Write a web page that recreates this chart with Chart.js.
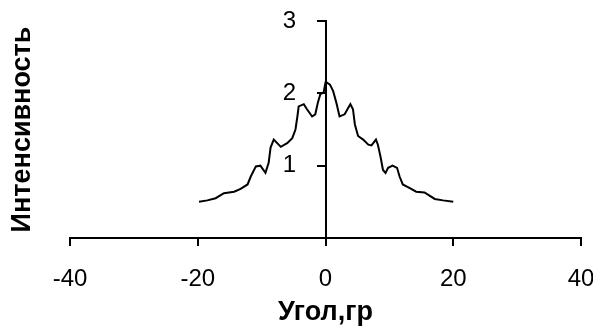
<!DOCTYPE html>
<html>
<head>
<meta charset="utf-8">
<script src="https://cdn.jsdelivr.net/npm/chart.js@4/dist/chart.umd.min.js"></script>
<style>
  html, body { margin: 0; padding: 0; background: #fff; }
  #wrap { width: 593px; height: 326px; position: relative; }
</style>
</head>
<body>
<div id="wrap"><canvas id="c" width="593" height="326"></canvas></div>
<script>
const angle = [-19.8, -18.5, -17.2, -15.9, -14.3, -13.3, -12.2, -11.7, -10.9, -10.2, -9.4, -8.9, -8.6, -8.1, -7.0, -6.0, -5.2, -4.7, -4.4, -4.2, -3.4, -2.9, -2.1, -1.6, -1.2, -0.8, -0.3, 0.0, 0.2, 0.7, 1.2, 1.7, 2.2, 3.0, 3.5, 3.9, 4.3, 4.6, 5.1, 5.9, 6.7, 7.2, 7.9, 8.2, 8.6, 9.0, 9.4, 9.8, 10.5, 11.2, 11.6, 12.1, 13.2, 14.2, 15.5, 17.1, 18.4, 20.0];
const intensity = [0.50, 0.52, 0.55, 0.62, 0.64, 0.68, 0.74, 0.85, 0.99, 1.00, 0.90, 1.04, 1.25, 1.36, 1.26, 1.31, 1.38, 1.50, 1.68, 1.82, 1.85, 1.78, 1.68, 1.71, 1.87, 1.99, 2.01, 2.15, 2.15, 2.12, 2.03, 1.87, 1.68, 1.71, 1.79, 1.85, 1.78, 1.57, 1.41, 1.36, 1.29, 1.28, 1.36, 1.29, 1.13, 0.94, 0.90, 0.97, 1.00, 0.97, 0.85, 0.74, 0.69, 0.64, 0.63, 0.54, 0.52, 0.50];
const xTicks = [-40, -20, 0, 20, 40];
const yTicks = [1, 2, 3];
const xTitle = 'Угол,гр';
const yTitle = 'Интенсивность';

const points = angle.map((a, i) => ({ x: a, y: intensity[i] }));

const tickFont = { family: 'Liberation Sans', size: 24 };
const titleFont = { family: 'Liberation Sans', size: 27, weight: 'bold', lineHeight: 1 };

new Chart(document.getElementById('c'), {
  type: 'scatter',
  data: {
    datasets: [{
      data: points,
      showLine: true,
      borderColor: '#000',
      borderWidth: 2,
      pointRadius: 0,
      tension: 0,
      yAxisID: 'y'
    }]
  },
  options: {
    responsive: false,
    animation: false,
    devicePixelRatio: 1,
    layout: { padding: { left: 0, right: 12, top: 21, bottom: 0 } },
    plugins: { legend: { display: false }, tooltip: { enabled: false } },
    scales: {
      x: {
        type: 'linear',
        position: 'bottom',
        min: -40, max: 40,
        afterBuildTicks: s => { s.ticks = xTicks.map(v => ({ value: v })); },
        ticks: { color: '#000', font: tickFont, padding: 19, maxRotation: 0 },
        grid: { drawOnChartArea: false, drawTicks: true, tickLength: 8, color: '#000', lineWidth: 2 },
        border: { display: true, color: '#000', width: 2 },
        title: { display: true, text: xTitle, color: '#000', font: titleFont, padding: { top: 0, bottom: 0 } },
        afterFit: s => { s.height = 88; s.paddingLeft = 0; s.paddingRight = 0; }
      },
      y: {
        type: 'linear',
        position: { x: 0 },
        min: 0, max: 3,
        afterBuildTicks: s => { s.ticks = [0].concat(yTicks).map(v => ({ value: v })); },
        ticks: { display: false },
        grid: { drawOnChartArea: false, drawTicks: true, tickLength: 8, color: '#000', lineWidth: 2 },
        border: { display: true, color: '#000', width: 2 },
        afterFit: s => { s.width = 0; s.paddingTop = 0; s.paddingBottom = 0; }
      },
      yLabels: {
        type: 'linear',
        position: { x: -4.6 },
        min: 0, max: 3,
        afterBuildTicks: s => { s.ticks = yTicks.map(v => ({ value: v })); },
        ticks: { color: '#000', font: tickFont, padding: 0 },
        grid: { display: false, drawTicks: false },
        border: { display: false },
        afterFit: s => { s.width = 0; s.paddingTop = 0; s.paddingBottom = 0; }
      },
      yTitle: {
        type: 'linear',
        position: 'left',
        display: true,
        ticks: { display: false },
        grid: { display: false, drawTicks: false },
        border: { display: false },
        title: { display: true, text: yTitle, color: '#000', font: titleFont, padding: { top: 9, bottom: 0 } },
        afterFit: s => { s.width = 70; s.paddingTop = 0; s.paddingBottom = 0; }
      }
    }
  }
});
</script>
</body>
</html>
